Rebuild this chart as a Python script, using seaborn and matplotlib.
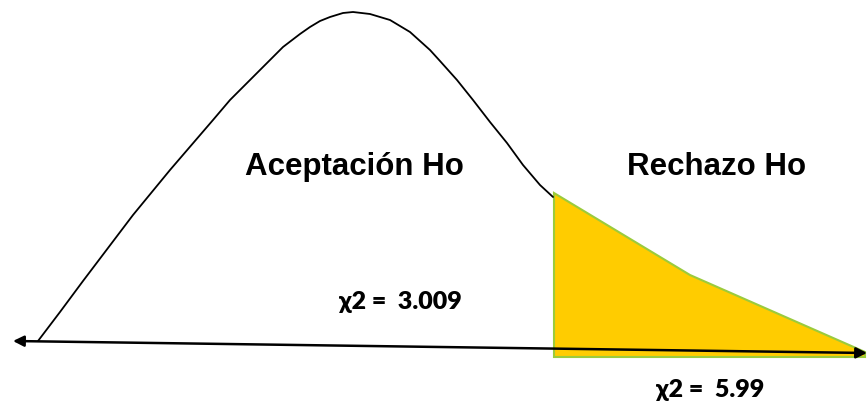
import seaborn as sns
import matplotlib.pyplot as plt
import pandas as pd

# curve (pixel coords, y down)
curve_x = [38, 60, 83, 108, 133, 170, 213, 230, 257, 283, 300, 310, 320, 330,
           343, 353, 370, 390, 410, 430, 440, 457, 473, 490, 507, 523, 540, 553]
curve_y = [341, 312, 281, 248, 215, 170, 120, 100, 73, 47, 34, 27, 21, 17,
           13, 12, 14, 20, 32, 50, 61, 80, 100, 122, 143, 165, 185, 197]

# rejection region outline
region_x = [554, 690, 865, 865, 554]
region_y = [193, 275, 352, 357, 357]

axis_start = (13, 341)
axis_end = (867, 353)

labels = ["Aceptación Ho", "Rechazo Ho"]
label_x = [354, 717]
label_y = [167, 167]

stats = ["χ2 =  3.009", "χ2 =  5.99"]
stat_x = [400, 710]
stat_y = [302, 390]


def draw_chart():
    sns.set_style('white')
    fig = plt.figure(figsize=(8.67, 4.07), dpi=100)
    ax = fig.add_axes([0, 0, 1, 1])

    ax.fill(region_x, region_y, facecolor='#FFCC00', edgecolor='#9BCB3C',
            linewidth=1.5, zorder=1)

    curve = pd.DataFrame({'x': curve_x, 'y': curve_y})
    sns.lineplot(x='x', y='y', data=curve, sort=False, color='k',
                 linewidth=1.3, ax=ax, zorder=2)

    ax.annotate('', xy=axis_end, xytext=axis_start,
                arrowprops=dict(arrowstyle='<|-|>', color='k', lw=1.8,
                                mutation_scale=16, shrinkA=0, shrinkB=0),
                zorder=3)

    for txt, x, y in zip(labels, label_x, label_y):
        ax.text(x, y, txt, ha='center', va='center', fontsize=22.5,
                fontweight='bold', color='black',
                family=['Liberation Sans', 'DejaVu Sans'])

    for txt, x, y in zip(stats, stat_x, stat_y):
        ax.text(x, y, txt, ha='center', va='center', fontsize=18,
                fontweight='heavy', family=['Lato', 'DejaVu Sans'],
                color='black')

    ax.set_xlim(0, 867)
    ax.set_ylim(407, 0)
    ax.axis('off')
    plt.savefig('out.png', dpi=100)


draw_chart()
